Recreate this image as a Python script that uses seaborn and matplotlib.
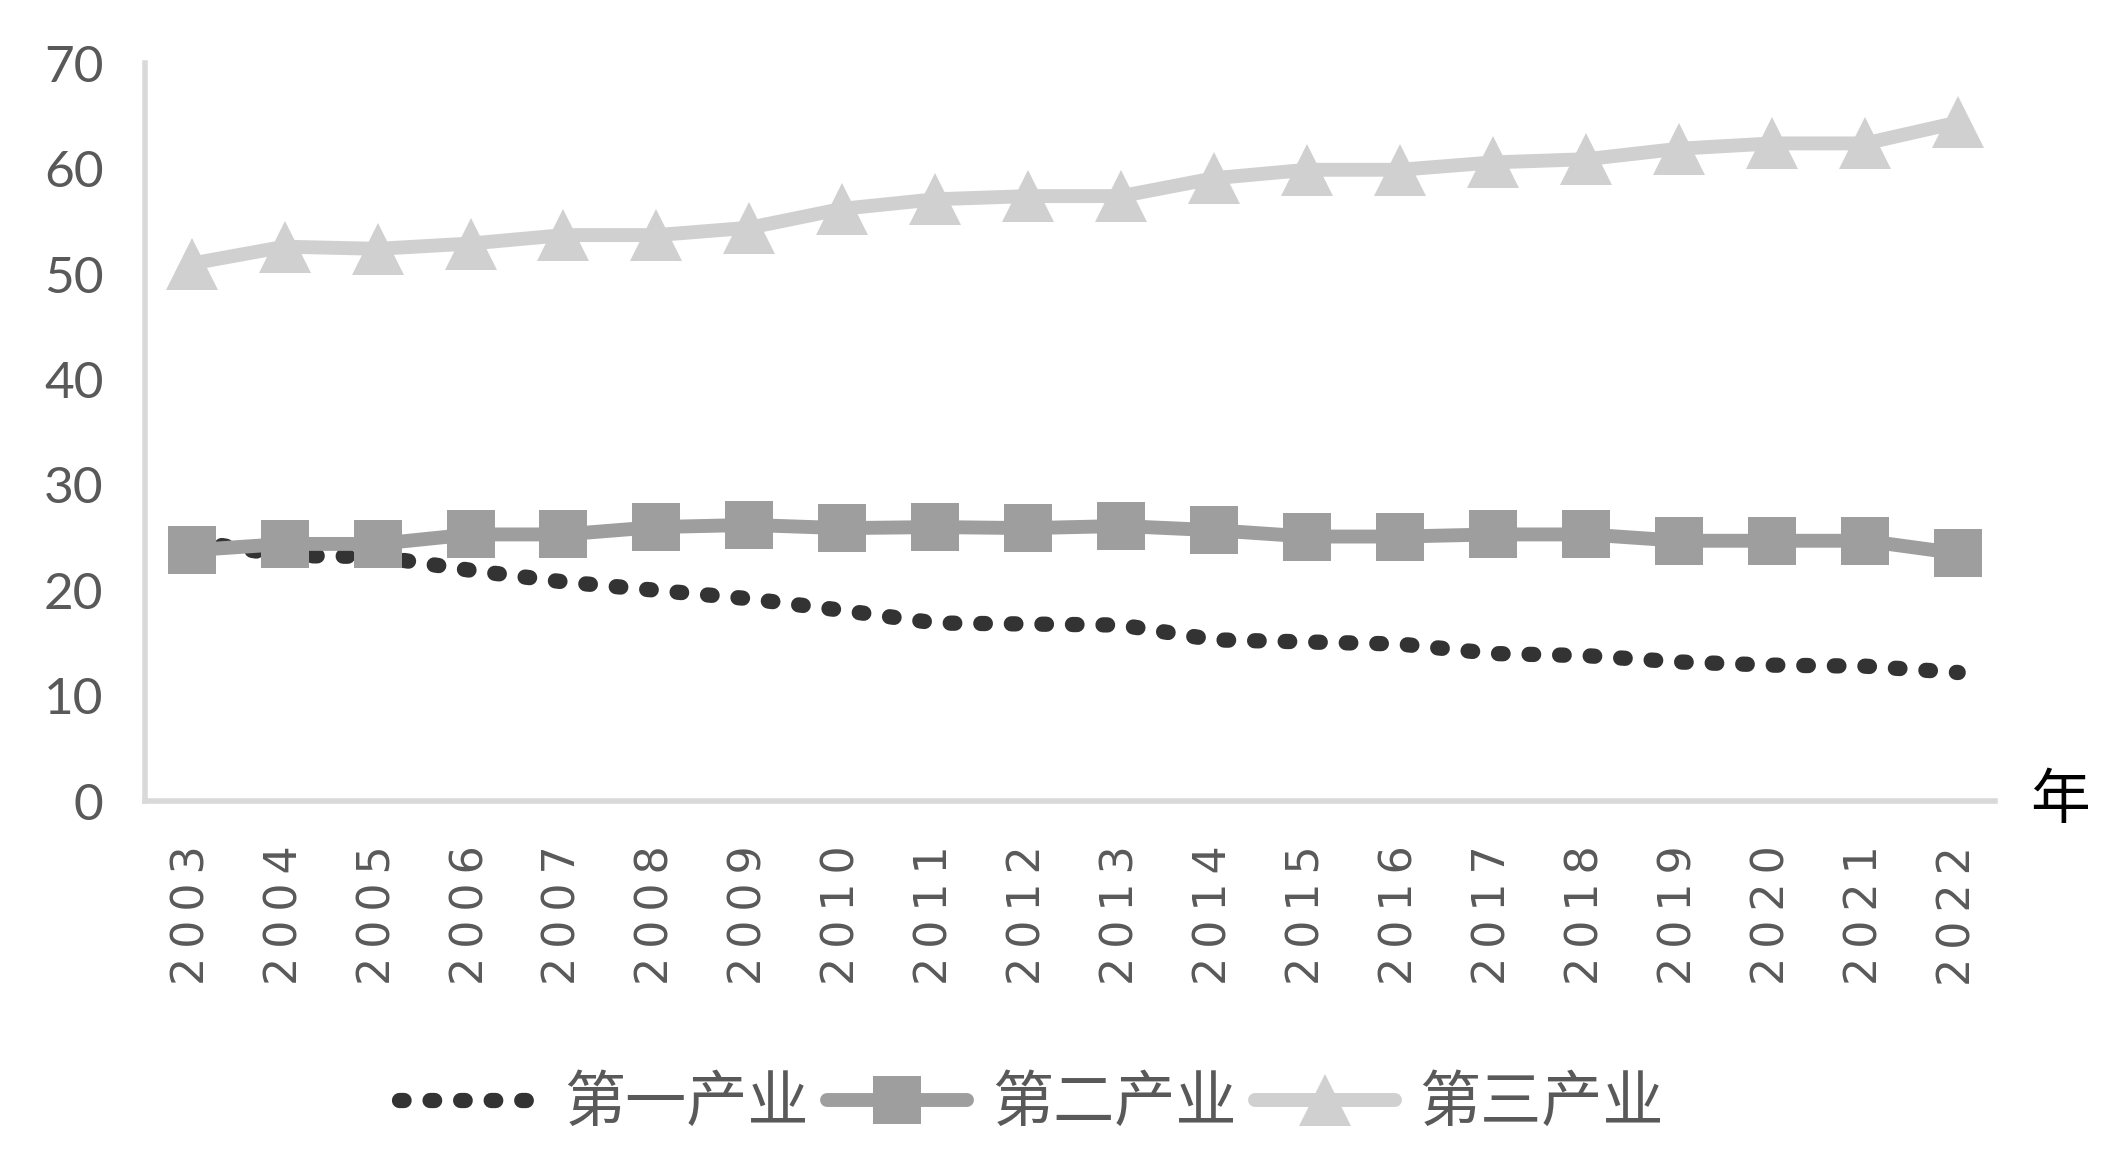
import numpy as np
import pandas as pd
import matplotlib
matplotlib.use("Agg")
import matplotlib.pyplot as plt
import seaborn as sns

# share of each industry (%), 2003-2022
years = list(range(2003, 2023))
primary = [24.7, 23.3, 23.2, 21.9, 20.8, 20.0, 19.2, 18.1, 16.9, 16.8,
           16.7, 15.3, 15.1, 14.9, 14.0, 13.8, 13.2, 12.9, 12.8, 12.2]
secondary = [23.8, 24.4, 24.4, 25.3, 25.3, 26.0, 26.2, 25.9, 26.0, 25.9,
             26.1, 25.7, 25.1, 25.1, 25.3, 25.3, 24.7, 24.7, 24.7, 23.5]
tertiary = [51.0, 52.6, 52.4, 52.9, 53.7, 53.7, 54.4, 56.2, 57.1, 57.4,
            57.4, 59.1, 59.9, 59.9, 60.6, 60.9, 61.9, 62.4, 62.4, 64.4]
series_names = ["第一产业", "第二产业", "第三产业"]
yticks = [0, 10, 20, 30, 40, 50, 60, 70]

sns.set_style("white")
plt.rcParams["font.family"] = ["Lato", "Noto Sans CJK SC", "DejaVu Sans"]

fig = plt.figure(figsize=(21.18, 11.51), dpi=100)
ax = fig.add_axes([0.0685, 0.304, 0.878, 0.641])

df = pd.DataFrame({"year": years, "p": primary, "s": secondary, "t": tertiary})

sns.lineplot(data=df, x="year", y="p", ax=ax, color="#333333", lw=11,
             label=series_names[0], zorder=2)
l1 = ax.lines[-1]
l1.set_dashes((0.3, 1.7))
l1.set_dash_capstyle("round")

sns.lineplot(data=df, x="year", y="s", ax=ax, color="#9e9e9e", lw=10,
             marker="s", markersize=35, markeredgewidth=0,
             label=series_names[1], zorder=3)
sns.lineplot(data=df, x="year", y="t", ax=ax, color="#d0d0d0", lw=10,
             marker="^", markersize=38, markeredgewidth=0,
             label=series_names[2], zorder=4)
for ln in ax.lines:
    ln.set_solid_capstyle("round")

ax.set_xlim(2002.5, 2022.5)
ax.set_ylim(0, 70)
ax.set_yticks(yticks)
ax.set_yticklabels([str(v) for v in yticks], fontsize=37, color="#595959")
ax.set_xticks(years)
ax.set_xticklabels(["\u2009".join(str(y)) for y in years], rotation=90,
                   fontsize=32, color="#595959", family="DejaVu Sans")
ax.tick_params(axis="y", length=0, pad=30)
ax.tick_params(axis="x", length=0, pad=32)
ax.set_xlabel("")
ax.set_ylabel("")

for side in ["top", "right"]:
    ax.spines[side].set_visible(False)
for side in ["left", "bottom"]:
    ax.spines[side].set_color("#d9d9d9")
    ax.spines[side].set_linewidth(4)
ax.spines["bottom"].set_bounds(2002.5, 2022.4)

ax.text(1.03, 0.0, "年", transform=ax.transAxes, fontsize=43,
        color="black", ha="center", va="center", family="Noto Sans CJK SC",
        fontweight="light")

handles, labels = ax.get_legend_handles_labels()
ax.get_legend().remove()
fig.legend(handles, labels, loc="center", bbox_to_anchor=(0.487, 0.041),
           ncol=3, frameon=False, labelcolor="#595959",
           handlelength=2.3, handletextpad=0.4, columnspacing=0.3,
           prop={"family": "Noto Sans CJK SC", "size": 44, "weight": "light"})

fig.savefig("out.png", dpi=100)
